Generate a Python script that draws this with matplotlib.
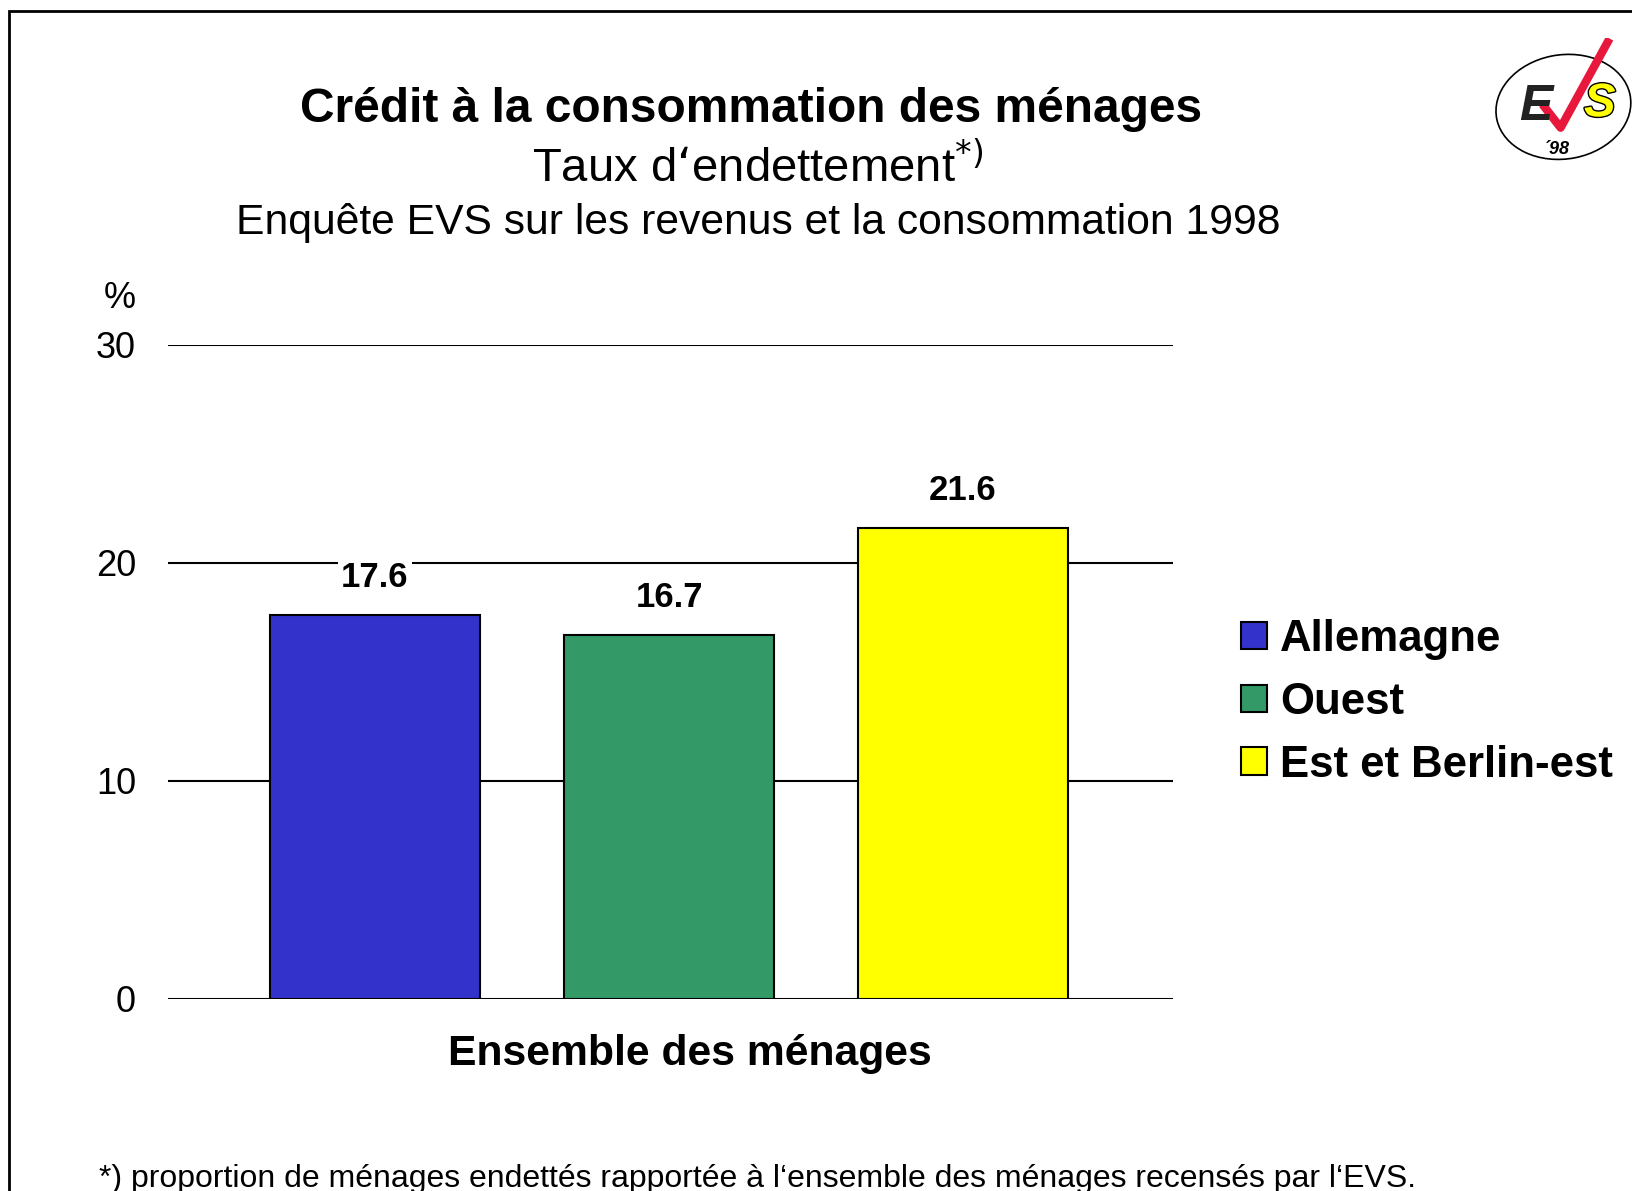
import matplotlib.pyplot as plt
import matplotlib.patheffects as pe
from matplotlib.patches import Rectangle, Ellipse, Patch

plt.rcParams["font.family"] = ["Liberation Sans", "DejaVu Sans"]

regions = ["Allemagne", "Ouest", "Est et Berlin-est"]
taux = [17.6, 16.7, 21.6]
colors = ["#3333CC", "#339966", "#FFFF00"]
yticks = [0, 10, 20, 30]

W, H = 1632, 1191
fig = plt.figure(figsize=(W / 100, H / 100), dpi=100)

# frame around the slide
fig.patches.append(Rectangle((9 / W, -0.1), 1.2, 1.1 - 11 / H, transform=fig.transFigure,
                             fill=False, edgecolor="black", linewidth=2))

ax = fig.add_axes([168 / W, 1 - 999 / H, (1173 - 168) / W, (999 - 345) / H])
x = list(range(len(taux)))
ax.bar(x, taux, width=0.714, color=colors, edgecolor="black", linewidth=1.5, zorder=3)
for v in yticks:
    ax.axhline(v, color="black", linewidth=1.5, zorder=1)
for xi, v in zip(x, taux):
    ax.annotate(f"{v:.1f}", (xi, v), xytext=(0, 27), textcoords="offset points",
                ha="center", va="center", fontsize=25, fontweight="bold", zorder=4,
                bbox=dict(boxstyle="square,pad=0.1", facecolor="white", edgecolor="none"))
ax.set_xlim(-0.704, 2.714)
ax.set_ylim(0, 30)
ax.set_yticks(yticks)
ax.set_yticklabels([str(t) for t in yticks], fontsize=26)
ax.tick_params(axis="y", length=0, pad=23)
ax.set_xticks([])
for s in ax.spines.values():
    s.set_visible(False)

fig.text(120 / W, 1 - 299 / H, "%", fontsize=26, ha="center", va="center")

fig.text(751 / W, 1 - 110 / H, "Crédit à la consommation des ménages",
         fontsize=34.5, fontweight="bold", ha="center", va="center")
fig.text(758 / W, 1 - 167 / H, "Taux d‘endettement$^{*)}$", fontsize=34,
         ha="center", va="center")
fig.text(758 / W, 1 - 223 / H, "Enquête EVS sur les revenus et la consommation 1998",
         fontsize=30.7, ha="center", va="center")
fig.text(690 / W, 1 - 1054 / H, "Ensemble des ménages", fontsize=30.7,
         fontweight="bold", ha="center", va="center")
fig.text(99 / W, 1 - 1179 / H, "*) proportion de ménages endettés rapportée à l‘ensemble des ménages recensés par l‘EVS.",
         fontsize=23, ha="left", va="center")

handles = [Patch(facecolor=c, edgecolor="black", linewidth=1.5) for c in colors]
fig.legend(handles, regions, loc="upper left", bbox_to_anchor=(1241 / W, 1 - 619 / H),
           frameon=False, prop={"size": 31.5, "weight": "bold"}, handlelength=0.6,
           handleheight=0.6, handletextpad=0.3, labelspacing=0.5, borderpad=0,
           borderaxespad=0)

# EVS logo
lg = fig.add_axes([1492 / W, 1 - 168 / H, 140 / W, 130 / H])
lg.set_xlim(0, 1)
lg.set_ylim(0, 1)
lg.axis("off")
lg.add_patch(Ellipse((0.51, 0.47), 0.97, 0.8, angle=12, fill=False, edgecolor="black", linewidth=1.2))
lg.text(0.31, 0.47, "E", fontsize=36, fontweight="bold", style="italic", color="#222222",
        ha="center", va="center")
lg.plot([0.36, 0.49, 0.84], [0.49, 0.31, 0.996], color="#E8183C", linewidth=6, solid_capstyle="butt")
lg.text(0.77, 0.49, "S", fontsize=34, fontweight="bold", style="italic", color="#FFFF00",
        ha="center", va="center", path_effects=[pe.withStroke(linewidth=2, foreground="black")])
lg.text(0.46, 0.14, "´98", fontsize=13, fontweight="bold", style="italic", ha="center", va="center")

fig.savefig("out.png", dpi=100)
